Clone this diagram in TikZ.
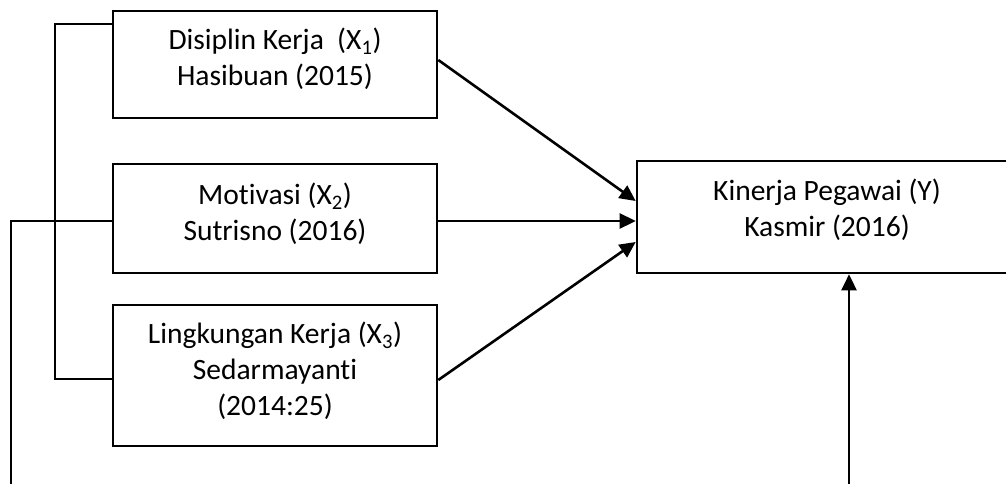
\documentclass[tikz,border=0pt]{standalone}
\usepackage{fontspec}
\setmainfont{Carlito}[Ligatures={NoCommon}]
\usetikzlibrary{arrows.meta}
\begin{document}
\begin{tikzpicture}[x=1pt,y=-1pt,
  box/.style={draw, line width=2.6pt, inner sep=0pt},
  txt/.style={font=\fontsize{29.5}{36}\selectfont, align=center, inner sep=0pt},
  conn/.style={line width=2.6pt},
  arr/.style={conn, -{Triangle[length=16pt,width=15pt]}}]
\useasboundingbox (0,0) rectangle (1006,484);
\node[box, minimum width=324pt, minimum height=107pt] (x1) at (275,64.5) {};
\node[box, minimum width=324pt, minimum height=109pt] (x2) at (275,218.5) {};
\node[box, minimum width=324pt, minimum height=141pt] (x3) at (275,375.5) {};
\node[box, minimum width=380pt, minimum height=112pt] (y) at (827,217) {};
\node[txt] (t1) at (275,59) {Disiplin Kerja\ \ (X\textsubscript{1})\\Hasibuan (2015)};
\node[txt] (t2) at (275,213.5) {Motivasi (X\textsubscript{2})\\Sutrisno (2016)};
\node[txt] (t3) at (275,371) {Lingkungan Kerja (X\textsubscript{3})\\Sedarmayanti\\(2014:25)};
\node[txt] (ty) at (827,210) {Kinerja Pegawai (Y)\\Kasmir (2016)};
% arrows into Y
\draw[arr] ([yshift=4.5pt]x1.east) -- ([yshift=16pt]y.west);
\draw[arr] ([yshift=-2.5pt]x2.east) -- ([yshift=-2.5pt]x2.east -| y.west);
\draw[arr] ([yshift=-4.5pt]x3.east) -- ([yshift=-25pt]y.west);
% bracket on the left
\coordinate (b1) at (55,24);
\coordinate (b3) at (55,379);
\draw[conn] (x1.west |- b1) -- (b1) -- (b3) -- (x3.west |- b3);
% outer line
\coordinate (o1) at (11,221);
\coordinate (o2) at (11,490);
\draw[conn] (x2.west |- o1) -- (o1) -- (o2);
% vertical arrow
\coordinate (v) at (849,490);
\draw[arr] (v) -- (v |- y.south);
\end{tikzpicture}
\end{document}
